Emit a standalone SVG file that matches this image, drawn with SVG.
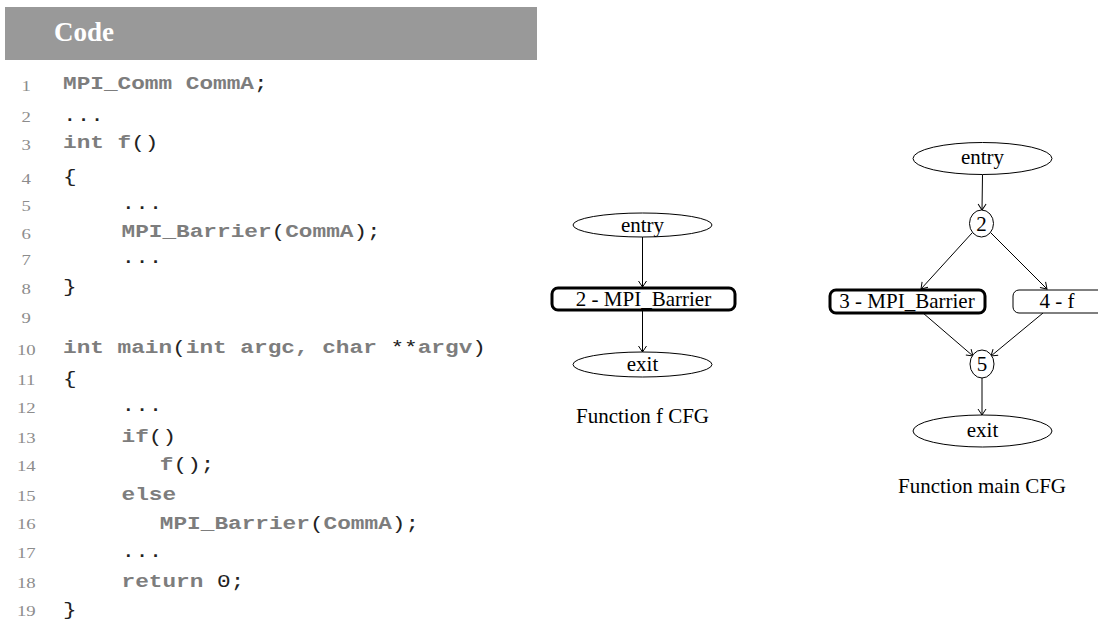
<svg xmlns="http://www.w3.org/2000/svg" width="1098" height="640" viewBox="0 0 1098 640">
<style>
.ln{font-family:"Liberation Serif",serif;font-size:15px;fill:#8c8c8c;text-anchor:middle}
.code{font-family:"Liberation Mono",monospace;font-size:17.5px}
.b{font-weight:bold;fill:#7d7d7d}
.p{font-weight:normal;fill:#222}
.lbl{font-family:"Liberation Serif",serif;font-size:21px;fill:#000;text-anchor:middle}
.nd{fill:#fff;stroke:#000;stroke-width:1}
.thick{fill:#fff;stroke:#000;stroke-width:3}
.edge{fill:none;stroke:#000;stroke-width:1;marker-end:url(#arr)}
</style>
<defs>
<marker id="arr" viewBox="0 0 6 8" refX="6" refY="4" markerWidth="6" markerHeight="8" markerUnits="userSpaceOnUse" orient="auto" overflow="visible">
<path d="M0,0 L6,4 L0,8" fill="none" stroke="#000" stroke-width="1"/>
</marker>
</defs>
<rect width="1098" height="640" fill="#fff"/>

<g id="code-panel">
<rect x="5" y="7" width="532" height="53" fill="#999"/>
<text x="54" y="41" font-family="Liberation Serif,serif" font-size="27" font-weight="bold" fill="#fff">Code</text>
<g id="line-numbers" transform="scale(1.25,1)">
<text class="ln" x="21" y="91">1</text>
<text class="ln" x="21" y="122">2</text>
<text class="ln" x="21" y="150">3</text>
<text class="ln" x="21" y="184">4</text>
<text class="ln" x="21" y="211">5</text>
<text class="ln" x="21" y="239">6</text>
<text class="ln" x="21" y="265">7</text>
<text class="ln" x="21" y="294">8</text>
<text class="ln" x="21" y="323">9</text>
<text class="ln" x="21" y="355">10</text>
<text class="ln" x="21" y="385">11</text>
<text class="ln" x="21" y="413">12</text>
<text class="ln" x="21" y="443">13</text>
<text class="ln" x="21" y="471">14</text>
<text class="ln" x="21" y="501">15</text>
<text class="ln" x="21" y="529">16</text>
<text class="ln" x="21" y="558">17</text>
<text class="ln" x="21" y="588">18</text>
<text class="ln" x="21" y="616">19</text>
</g>
<g id="code-lines" class="code" transform="translate(63,0) scale(1.3,1)">
<text y="89"><tspan class="b">MPI_Comm CommA</tspan><tspan class="p">;</tspan></text>
<text y="121"><tspan class="p">...</tspan></text>
<text y="148"><tspan class="b">int f</tspan><tspan class="p">()</tspan></text>
<text y="182"><tspan class="p">{</tspan></text>
<text x="45" y="209"><tspan class="p">...</tspan></text>
<text x="45" y="237"><tspan class="b">MPI_Barrier</tspan><tspan class="p">(</tspan><tspan class="b">CommA</tspan><tspan class="p">);</tspan></text>
<text x="45" y="263"><tspan class="p">...</tspan></text>
<text y="292"><tspan class="p">}</tspan></text>
<text y="353"><tspan class="b">int main</tspan><tspan class="p">(</tspan><tspan class="b">int argc, char </tspan><tspan class="p">**</tspan><tspan class="b">argv</tspan><tspan class="p">)</tspan></text>
<text y="384"><tspan class="p">{</tspan></text>
<text x="45" y="411"><tspan class="p">...</tspan></text>
<text x="45" y="442"><tspan class="b">if</tspan><tspan class="p">()</tspan></text>
<text x="74.5" y="470"><tspan class="b">f</tspan><tspan class="p">();</tspan></text>
<text x="45" y="500"><tspan class="b">else</tspan></text>
<text x="74.5" y="529"><tspan class="b">MPI_Barrier</tspan><tspan class="p">(</tspan><tspan class="b">CommA</tspan><tspan class="p">);</tspan></text>
<text x="45" y="557"><tspan class="p">...</tspan></text>
<text x="45" y="587"><tspan class="b">return </tspan><tspan class="p">0;</tspan></text>
<text y="615"><tspan class="p">}</tspan></text>
</g>
</g>

<g id="connectors">
<line class="edge" x1="642.5" y1="237" x2="642.5" y2="287"/>
<line class="edge" x1="642.5" y1="310" x2="642.5" y2="352"/>
<line class="edge" x1="982.5" y1="174.5" x2="982" y2="210"/>
<line class="edge" x1="972" y1="233" x2="921" y2="289"/>
<line class="edge" x1="991" y1="233" x2="1047" y2="289"/>
<line class="edge" x1="923" y1="313" x2="973" y2="356"/>
<line class="edge" x1="1043" y1="313" x2="991" y2="356"/>
<line class="edge" x1="982" y1="378" x2="982" y2="415"/>
</g>

<g id="f-entry">
<ellipse class="nd" cx="642.5" cy="225" rx="69.5" ry="12"/>
<text class="lbl" x="642.5" y="232">entry</text>
</g>
<g id="f-node2">
<rect class="thick" x="552" y="288" width="183" height="22" rx="6"/>
<text class="lbl" x="643.5" y="306">2 - MPI_Barrier</text>
</g>
<g id="f-exit">
<ellipse class="nd" cx="642.5" cy="364.5" rx="69.5" ry="12.5"/>
<text class="lbl" x="642.5" y="371">exit</text>
</g>
<g id="f-caption">
<text class="lbl" x="642.5" y="423">Function f CFG</text>
</g>

<g id="main-entry">
<ellipse class="nd" cx="982.5" cy="158.5" rx="69.5" ry="16"/>
<text class="lbl" x="982.5" y="164">entry</text>
</g>
<g id="main-node2">
<ellipse class="nd" cx="981.5" cy="223.5" rx="12" ry="13.5"/>
<text class="lbl" x="981.5" y="231">2</text>
</g>
<g id="main-node3">
<rect class="thick" x="830" y="290" width="155" height="23" rx="6"/>
<text class="lbl" x="907" y="308">3 - MPI_Barrier</text>
</g>
<g id="main-node4">
<rect class="nd" x="1013" y="290" width="92" height="23" rx="6"/>
<text class="lbl" x="1057" y="308">4 - f</text>
</g>
<g id="main-node5">
<ellipse class="nd" cx="982" cy="364" rx="12" ry="14"/>
<text class="lbl" x="982" y="371">5</text>
</g>
<g id="main-exit">
<ellipse class="nd" cx="982.5" cy="431" rx="69.5" ry="16"/>
<text class="lbl" x="982.5" y="437">exit</text>
</g>
<g id="main-caption">
<text class="lbl" x="982" y="493">Function main CFG</text>
</g>
</svg>
